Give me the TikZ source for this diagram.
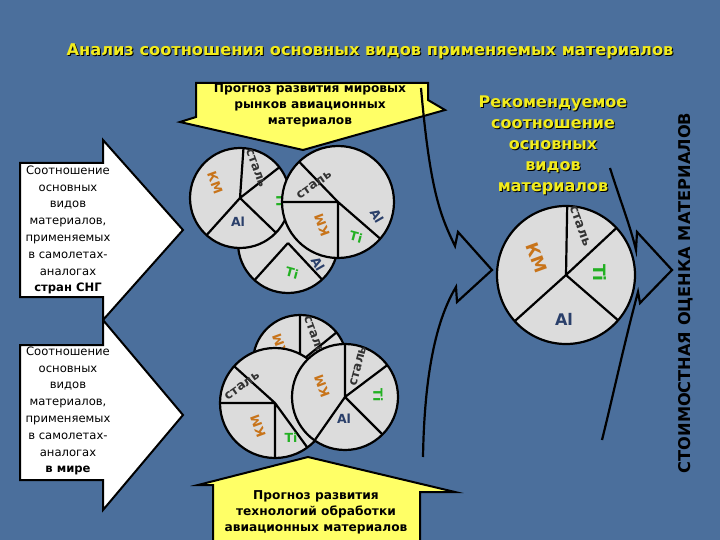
\documentclass[tikz,border=0pt]{standalone}
\usepackage{fontspec}
\setmainfont{DejaVu Sans}
\begin{document}
\begin{tikzpicture}[x=1pt,y=-1pt,
  pie/.style={draw=black,line width=2.2pt,fill=pieg},
  cut/.style={draw=black,line width=2.2pt},
  lb/.style={font=\bfseries\fontsize{12.5}{12.5}\selectfont,inner sep=0pt},
  km/.style={lb,text=kmc},
  al/.style={lb,text=alc},
  ti/.style={lb,text=tic},
  st/.style={lb,text=stc},
  wtxt/.style={font=\fontsize{11.6}{16.8}\selectfont,align=center,text=black},
  ytxt/.style={font=\bfseries\fontsize{12.2}{16}\selectfont,align=center,text=black},
  bracket/.style={draw=black,line width=2.2pt,line join=miter}]
\definecolor{bg}{HTML}{4B6F9C}
\definecolor{pieg}{HTML}{DCDCDC}
\definecolor{kmc}{HTML}{C8741A}
\definecolor{alc}{HTML}{2A3F6A}
\definecolor{tic}{HTML}{22B022}
\definecolor{stc}{HTML}{333333}
\definecolor{yel}{HTML}{FFFF66}
\definecolor{tyel}{HTML}{F2EC1C}
\useasboundingbox (0,0) rectangle (720,540);
\fill[bg] (0,0) rectangle (720,540);

% title
\node[font=\bfseries\fontsize{16.2}{17}\selectfont,text=black] (titsh) at (371,52) {Анализ соотношения основных видов применяемых материалов};
\node[font=\bfseries\fontsize{16.2}{17}\selectfont,text=tyel] (title) at (370,51) {Анализ соотношения основных видов применяемых материалов};

% yellow callouts
\draw[fill=yel,line width=2pt,line join=miter] (196,83) -- (428,83) -- (428,100) -- (445,110) -- (303,150) -- (180,122) -- (196,117) -- cycle;
\node[ytxt] (topcall) at (310,105) {Прогноз развития мировых\\рынков авиационных\\материалов};
\draw[fill=yel,line width=2pt,line join=miter] (213,545) -- (213,485) -- (198,485) -- (308,457) -- (455,492) -- (420,492) -- (420,545) -- cycle;
\node[ytxt] (botcall) at (316,512) {Прогноз развития\\технологий обработки\\авиационных материалов};

% white arrows
\draw[fill=white,line width=2pt,line join=miter] (20,163) -- (103,163) -- (103,140) -- (183,230) -- (103,320) -- (103,297) -- (20,297) -- cycle;
\node[wtxt] (leftA) at (68,230) {Соотношение\\основных\\видов\\материалов,\\применяемых\\в самолетах-\\аналогах\\\textbf{стран СНГ}};
\draw[fill=white,line width=2pt,line join=miter] (20,345) -- (103,345) -- (103,320) -- (183,415) -- (103,510) -- (103,480) -- (20,480) -- cycle;
\node[wtxt] (leftB) at (68,411) {Соотношение\\основных\\видов\\материалов,\\применяемых\\в самолетах-\\аналогах\\\textbf{в мире}};

% top cluster
\coordinate (C) at (288,243);
\draw[pie] (C) circle (50);
\draw[cut] (C) -- ++(132:50) (C) -- ++(47:50);
\node[ti,rotate=-15] (cti) at (292,273) {Ti};
\node[al,rotate=-60] (cal) at (318,264) {Al};
\coordinate (A) at (240,198);
\draw[pie] (A) circle (50);
\draw[cut] (A) -- ++(-86:50) (A) -- ++(-38:50) (A) -- ++(44:50) (A) -- ++(-228:50);
\node[km,rotate=-70] (aka) at (215,183) {КМ};
\node[st,rotate=-70] (ast) at (256,168) {сталь};
\node[ti,rotate=-90] (ati) at (281,200) {Ti};
\node[al] (aal) at (238,222) {Al};
\coordinate (B) at (338,202);
\draw[pie] (B) circle (56);
\draw[cut] (B) -- ++(180:56) (B) -- ++(-134:56) (B) -- ++(41:56) (B) -- ++(90:56);
\node[st,rotate=35] (bst) at (314,185) {сталь};
\node[km,rotate=110] (bkm) at (322,225) {КМ};
\node[ti,rotate=-15] (bti) at (356,237) {Ti};
\node[al,rotate=-60] (bal) at (377,216) {Al};

% bottom cluster
\coordinate (D) at (300,362);
\draw[pie] (D) circle (47);
\draw[cut] (D) -- ++(-90:47) (D) -- ++(-39:47);
\node[st,rotate=-70] (dst) at (314,335) {сталь};
\node[km,rotate=110] (dkm) at (280,345) {КМ};
\coordinate (E) at (275,403);
\draw[pie] (E) circle (55);
\draw[cut] (E) -- ++(-138:55) (E) -- ++(180:55) (E) -- ++(90:55) (E) -- ++(54:55);
\node[st,rotate=35] (est) at (242,386) {сталь};
\node[km,rotate=110] (ekm) at (258,426) {КМ};
\node[ti] (eti) at (291,438) {Ti};
\coordinate (F) at (345,397);
\draw[pie] (F) circle (53);
\draw[cut] (F) -- ++(-90:53) (F) -- ++(-37:53) (F) -- ++(45:53) (F) -- ++(125:53);
\node[km,rotate=110] (fkm) at (322,386) {КМ};
\node[st,rotate=75] (fst) at (358,366) {сталь};
\node[ti,rotate=-90] (fti) at (378,395) {Ti};
\node[al] (fal) at (344,419) {Al};

% recommended
\node[font=\bfseries\fontsize{16}{21}\selectfont,align=center,text=black] (recsh) at (554,146) {Рекомендуемое\\соотношение\\основных\\видов\\материалов};
\node[font=\bfseries\fontsize{16}{21}\selectfont,align=center,text=tyel] (rec) at (553,145) {Рекомендуемое\\соотношение\\основных\\видов\\материалов};
\coordinate (R) at (566,275);
\draw[pie] (R) circle (69);
\draw[cut] (R) -- ++(-89:69) (R) -- ++(-43:69) (R) -- ++(41:69) (R) -- ++(-222:69);
\node[km,rotate=-70,font=\bfseries\fontsize{17}{17}\selectfont] (rkm) at (537,258) {КМ};
\node[st,rotate=-70,font=\bfseries\fontsize{13}{13}\selectfont] (rst) at (580,226) {сталь};
\node[ti,rotate=-90,font=\bfseries\fontsize{17}{17}\selectfont] (rti) at (600,273) {Ti};
\node[al,font=\bfseries\fontsize{16}{16}\selectfont] (ral) at (564,319) {Al};

% brackets
\coordinate (l1) at (421,88); \coordinate (l2) at (455,246);
\coordinate (l3) at (492,270); \coordinate (l4) at (423,457);
\draw[bracket] (l1) .. controls (430,190) and (440,215) .. (l2) -- (458,232) -- (l3) -- (457,302) -- (456,287) .. controls (430,330) and (424,400) .. (l4);
\coordinate (r1) at (610,168); \coordinate (r2) at (672,270); \coordinate (r3) at (602,440);
\draw[bracket] (r1) .. controls (620,200) and (630,225) .. (636,250) -- (637,232) -- (r2) -- (640,303) -- (638,292) .. controls (625,340) and (612,400) .. (r3);

\node[rotate=90,font=\bfseries\fontsize{16.2}{17}\selectfont,text=black] (cost) at (686,293) {СТОИМОСТНАЯ ОЦЕНКА МАТЕРИАЛОВ};
\end{tikzpicture}
\end{document}
